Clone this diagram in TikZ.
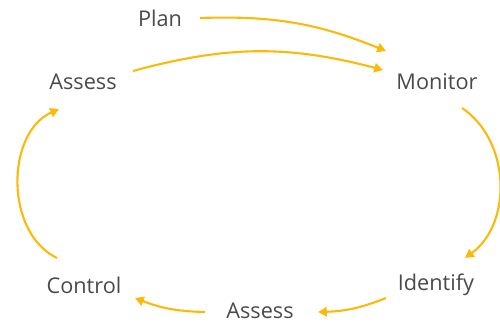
\documentclass[tikz,border=0pt]{standalone}
\usepackage{fontspec}
\setmainfont{Open Sans}
\usepackage{tikz}
\usetikzlibrary{arrows.meta}
\definecolor{Gold}{HTML}{FBBA0A}
\definecolor{Graphite}{HTML}{4A4A4A}

\begin{document}
\begin{tikzpicture}[x=0.03cm, y=0.03cm,
    every node/.style={inner sep=0pt, text=Graphite, font=\fontsize{18.5}{20}\selectfont},
    flow/.style={-{Triangle[length=7.5pt,width=8pt]}, line width=1.8pt, Gold}]
      \useasboundingbox (0,0) rectangle (500,324);

      \node (plan) at (160,306) {Plan};
      \node (assessT) at (83,242) {Assess};
      \node (monitor) at (437,242) {Monitor};
      \node (identify) at (436,39) {Identify};
      \node (assessB) at (260,13) {Assess};
      \node (control) at (84,39) {Control};

      \draw[flow] ([shift={(40,0)}]plan.center) to[bend left=12] ([shift={(-51,31)}]monitor.center);
      \draw[flow] ([shift={(50,11)}]assessT.center) to[bend left=15] ([shift={(-54,12)}]monitor.center);
      \draw[flow] ([shift={(25,-26)}]monitor.center) to[bend left=55] ([shift={(29,27)}]identify.center);
      \draw[flow] ([shift={(-50,-13)}]identify.center) to[bend left=10] ([shift={(58,-1)}]assessB.center);
      \draw[flow] ([shift={(-55,-1)}]assessB.center) to[bend left=10] ([shift={(51,-13)}]control.center);
      \draw[flow] ([shift={(-27,27)}]control.center) to[bend left=65] ([shift={(-24,-27)}]assessT.center);
    \end{tikzpicture}
\end{document}
